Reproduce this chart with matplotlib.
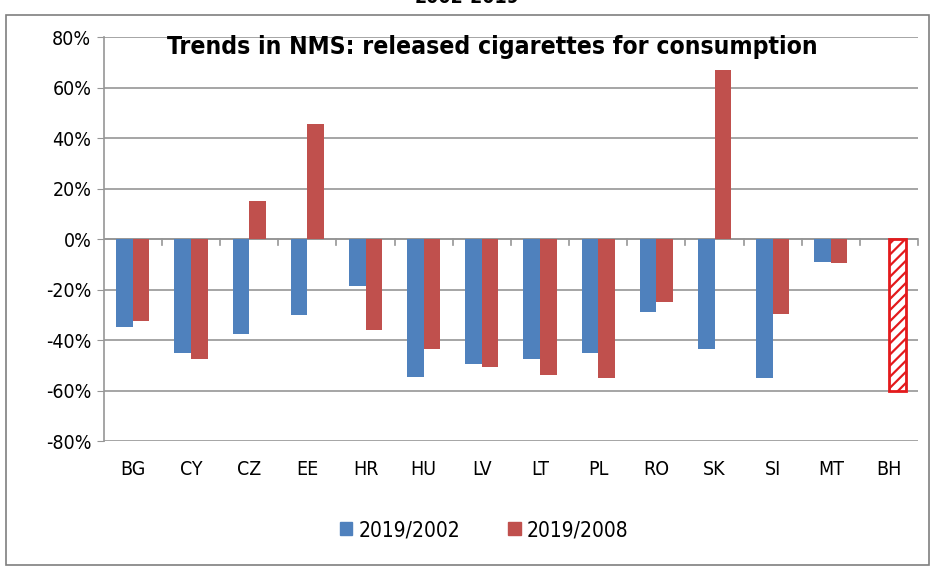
import numpy as np
import matplotlib.pyplot as plt
from matplotlib.patches import Rectangle, Patch

countries = ['BG', 'CY', 'CZ', 'EE', 'HR', 'HU', 'LV', 'LT', 'PL', 'RO', 'SK', 'SI', 'MT', 'BH']
trend_2002 = [-35, -45, -37.5, -30, -18.5, -54.5, -49.5, -47.5, -45, -29, -43.5, -55, -9, np.nan]
trend_2008 = [-32.5, -47.5, 15, 45.5, -36, -43.5, -50.5, -54, -55, -25, 67, -29.5, -9.5, np.nan]
bh_2008 = -60  # hatched estimate for BH

plt.rcParams['font.family'] = ['DejaVu Sans']
plt.rcParams['font.stretch'] = 'condensed'
plt.rcParams['hatch.linewidth'] = 1.6
plt.rcParams['hatch.color'] = '#e31a1c'

blue = '#4f81bd'
red = '#c0504d'
grid_c = '#969696'

fig = plt.figure(figsize=(9.35, 5.67), dpi=100)
ax = fig.add_axes([0.111, 0.2222, 0.871, 0.7125])

x = np.arange(len(countries))
w = 0.285
ax.bar(x - w / 2, trend_2002, w, color=blue, zorder=3)
ax.bar(x + w / 2, trend_2008, w, color=red, zorder=3)
ax.bar(x[-1] + w / 2, bh_2008, w, color='white', edgecolor='#e31a1c',
       hatch='///', linewidth=2, zorder=3)

ax.set_xlim(-0.5, len(countries) - 0.5)
ax.set_ylim(-80, 80)
yt = np.arange(-80, 81, 20)
ax.set_yticks(yt)
ax.set_yticklabels([f'{v}%' for v in yt], fontsize=14)
ax.grid(axis='y', color=grid_c, linewidth=1.2, zorder=0)
ax.tick_params(axis='y', length=5, color=grid_c, pad=4)

# category labels below the axes, ticks on the zero line
ax.set_xticks([])
for i, c in enumerate(countries):
    ax.text(i, -87.5, c, ha='center', va='top', fontsize=14, clip_on=False)
ax.axhline(0, color=grid_c, linewidth=1.2, zorder=2)
for b in np.arange(0.5, len(countries), 1):
    ax.plot([b, b], [0, -2.4], color=grid_c, linewidth=1.2, zorder=2, clip_on=False)

for s in ['top', 'right', 'bottom']:
    ax.spines[s].set_visible(False)
ax.spines['left'].set_color(grid_c)
ax.spines['left'].set_linewidth(1.2)

ax.text(0.477, 0.975, 'Trends in NMS: released cigarettes for consumption',
        transform=ax.transAxes, ha='center', va='center', fontsize=17.7, fontweight='bold')

handles = [Patch(color=blue, label='2019/2002'), Patch(color=red, label='2019/2008')]
fig.legend(handles=handles, loc='center', bbox_to_anchor=(0.518, 0.065), ncol=2,
           frameon=False, fontsize=15, handlelength=0.6, handleheight=0.6,
           handletextpad=0.3, columnspacing=2.3)

fig.text(0.5, 1.005, '2002-2019', ha='center', va='center', fontsize=14, fontweight='bold')
fig.patches.append(Rectangle((0.006, 0.004), 0.988, 0.97, transform=fig.transFigure,
                             fill=False, edgecolor='#7f7f7f', linewidth=1.2))

fig.savefig('out.png', dpi=100)
